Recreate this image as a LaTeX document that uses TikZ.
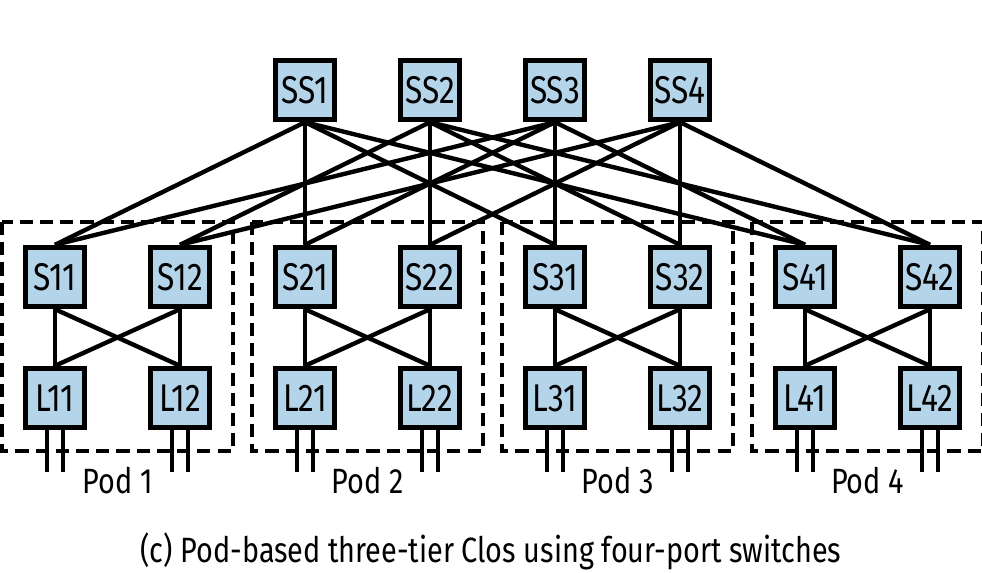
\documentclass[tikz,border=0pt]{standalone}
\usepackage{fontspec}
\setmainfont{Fira Sans}[FakeStretch=0.82]
\usetikzlibrary{calc}
\definecolor{swblue}{RGB}{180,212,234}

\begin{document}
\begin{tikzpicture}[x=0.02cm,y=-0.02cm,
		sw/.style={draw,fill=swblue,line width=2.8pt,minimum size=1.19cm,inner sep=0pt,font=\fontsize{22}{24}\selectfont},
		link/.style={line width=2.5pt},
		podbox/.style={draw,line width=2.5pt,dash pattern=on 7.5pt off 4pt}]

			\useasboundingbox (0,0) rectangle (982,572);

			% super spines
			\foreach \i/\x in {1/305,2/430,3/555,4/680}
				\node[sw] (SS\i) at (\x,90) {SS\i};

			% pods
			\foreach \k in {1,...,4} {
				\pgfmathsetmacro\px{55+250*(\k-1)}
				\draw[podbox] (\px-53,222) rectangle (\px+178,451);
				\node[sw] (S\k1) at (\px,277) {S\k1};
				\node[sw] (S\k2) at (\px+125,277) {S\k2};
				\node[sw] (L\k1) at (\px,398) {L\k1};
				\node[sw] (L\k2) at (\px+125,398) {L\k2};
				\node[font=\fontsize{20}{22}\selectfont] (pod\k) at (\px+62.5,481) {Pod \k};
				% host ports
				\foreach \l in {1,2} {
					\draw[link] ($(L\k\l.south)+(-8,0)$) -- ++(0,42);
					\draw[link] ($(L\k\l.south)+(8,0)$) -- ++(0,42);
				}
			}

			% links
			\foreach \k in {1,...,4} {
				\foreach \a in {1,2}
					\foreach \b in {1,2}
						\draw[link] (S\k\a.south) -- (L\k\b.north);
				\draw[link] (SS1.south) -- (S\k1.north);
				\draw[link] (SS3.south) -- (S\k1.north);
				\draw[link] (SS2.south) -- (S\k2.north);
				\draw[link] (SS4.south) -- (S\k2.north);
			}

			\node[font=\fontsize{20}{22}\selectfont] (caption) at (491,551) {(c) Pod-based three-tier Clos using four-port switches};

		\end{tikzpicture}
\end{document}
